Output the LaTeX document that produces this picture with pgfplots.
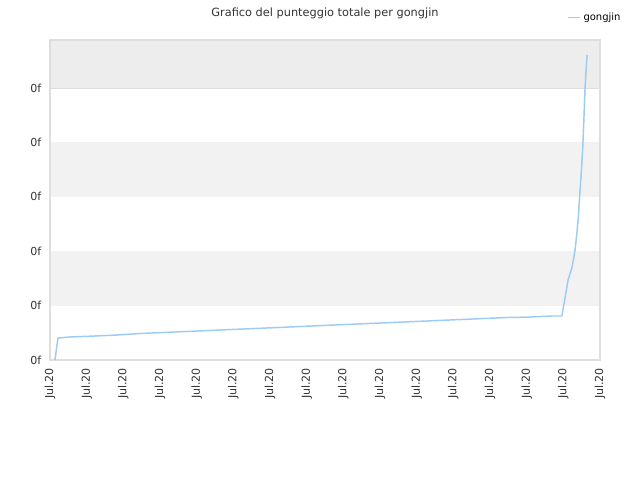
\documentclass[border=0pt]{standalone}
\usepackage{pgfplots}
\pgfplotsset{compat=1.18}
\usepackage{fontspec}
\setmainfont{DejaVu Sans}
\definecolor{lineblue}{HTML}{9CCBF6}
\definecolor{gridgrey}{HTML}{DEDEDE}
\definecolor{bandgrey}{HTML}{F2F2F2}
\definecolor{topgrey}{HTML}{EDEDED}
\definecolor{txtgrey}{HTML}{333333}

\begin{document}
\begin{tikzpicture}
\useasboundingbox (0,0) rectangle (480pt,360pt);
\begin{axis}[
  at={(37.5pt,90pt)}, anchor=south west,
  scale only axis, width=412.5pt, height=240pt,
  xmin=0, xmax=15, ymin=0, ymax=5.882,
  xtick={0,...,15}, xticklabels={Jul.20,Jul.20,Jul.20,Jul.20,Jul.20,Jul.20,Jul.20,Jul.20,Jul.20,Jul.20,Jul.20,Jul.20,Jul.20,Jul.20,Jul.20,Jul.20},
  x tick label style={rotate=90, anchor=east, xshift=-2.5pt, font=\fontsize{8.3}{9}\selectfont, text=txtgrey},
  ytick={0,...,5}, yticklabels={0f,0f,0f,0f,0f,0f},
  y tick label style={xshift=-3pt, font=\fontsize{8.3}{9}\selectfont, text=txtgrey},
  major tick length=0pt,
  ymajorgrids, grid style={gridgrey, line width=0.6pt},
  axis line style={gridgrey, line width=0.8pt},
  title={Grafico del punteggio totale per gongjin},
  title style={font=\fontsize{8.5}{10}\selectfont, text=txtgrey, at={(0.5,1)}, yshift=6pt},
  legend style={at={(1.05,1.07)}, anchor=east, draw=none, fill=none, font=\fontsize{7.5}{9}\selectfont, legend cell align=left},
  legend image code/.code={\draw[lineblue, line width=1.2pt] (0cm,0cm) -- (0.32cm,0cm);},
]
\fill[bandgrey] (axis cs:0,1) rectangle (axis cs:15,2);
\fill[bandgrey] (axis cs:0,3) rectangle (axis cs:15,4);
\fill[topgrey] (axis cs:0,5) rectangle (axis cs:15,5.882);
\draw[gridgrey, line width=0.8pt] (rel axis cs:0,0) rectangle (rel axis cs:1,1);
\addplot[lineblue, line width=1.1pt] coordinates {
(0.136,0) (0.191,0.276) (0.218,0.404) (0.545,0.423) (1.227,0.441) (1.855,0.46)
(2.455,0.487) (3.082,0.506) (3.709,0.524) (4.336,0.542) (4.964,0.561) (5.591,0.579)
(6.218,0.597) (6.818,0.616) (7.445,0.634) (8.073,0.653) (8.7,0.671) (9.327,0.689)
(9.955,0.708) (10.58,0.726) (11.21,0.744) (11.84,0.763) (12.46,0.781) (13.09,0.790)
(13.69,0.809) (13.96,0.809) (14.05,1.158) (14.13,1.471) (14.24,1.710) (14.32,2.022)
(14.37,2.335) (14.41,2.629) (14.45,3.070) (14.49,3.438) (14.53,3.915) (14.56,4.412)
(14.59,4.963) (14.62,5.331) (14.65,5.607)
};
\addlegendentry{gongjin}
\end{axis}
\end{tikzpicture}
\end{document}
